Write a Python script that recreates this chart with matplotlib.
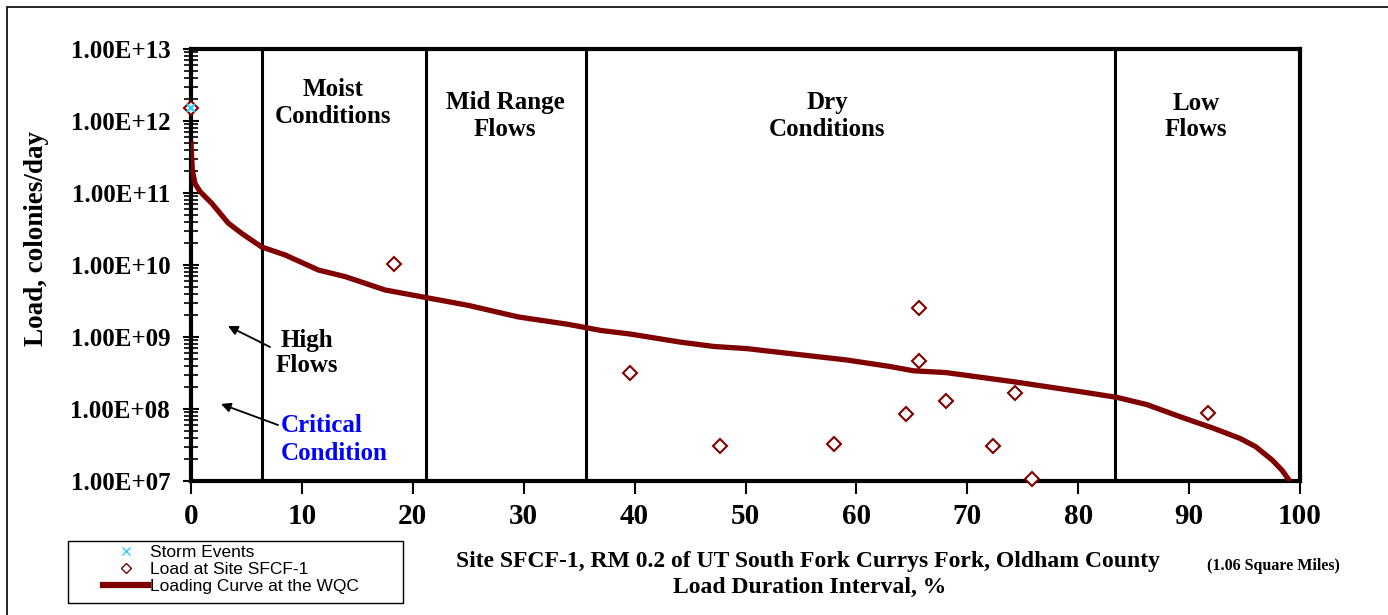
import numpy as np
import matplotlib.pyplot as plt
from matplotlib.patches import Rectangle
from matplotlib.lines import Line2D
from matplotlib.ticker import LogLocator, FixedLocator

# load duration curve at the water quality criterion (percent exceeded, colonies/day)
curve_pct = [0, 0.12, 0.36, 0.81, 1.87, 3.37, 4.57, 6.37, 8.48, 11.5, 13.9, 17.5,
             21.1, 25.0, 29.5, 34.0, 37.0, 39.6, 44.1, 47.1, 50.1, 54.6, 59.1,
             63.0, 65.1, 68.1, 74.1, 80.2, 83.5, 86.2, 89.2, 92.2, 94.6, 96.0,
             97.5, 98.4, 99.1]
curve_load = [4.9e11, 2.1e11, 1.35e11, 1.05e11, 7.2e10, 3.8e10, 2.75e10, 1.78e10,
              1.38e10, 8.5e9, 6.9e9, 4.5e9, 3.55e9, 2.75e9, 1.9e9, 1.5e9, 1.23e9,
              1.1e9, 8.5e8, 7.4e8, 6.9e8, 5.75e8, 4.8e8, 3.9e8, 3.4e8, 3.2e8,
              2.4e8, 1.74e8, 1.45e8, 1.15e8, 7.8e7, 5.4e7, 3.9e7, 3.0e7, 1.95e7,
              1.4e7, 9.8e6]

# observed loads at site SFCF-1
obs_pct = [0, 18.3, 39.6, 47.7, 58.0, 64.5, 65.6, 65.6, 68.1, 72.3, 74.3, 75.8, 91.7]
obs_load = [1.5e12, 1.03e10, 3.2e8, 3.1e7, 3.3e7, 8.5e7, 2.5e9, 4.6e8, 1.3e8,
            3.1e7, 1.66e8, 1.07e7, 8.9e7]

storm_pct = [0]
storm_load = [1.5e12]

zone_edges = [6.4, 21.2, 35.6, 83.3]
zone_labels = ["Moist\nConditions", "Mid Range\nFlows", "Dry\nConditions", "Low\nFlows"]

serif = "Liberation Serif"
dark_red = "#800000"
W, H = 1388, 615


def fx(x):
    return x / W


def fy(y):
    return 1 - y / H


def two_lines(text, x, y_top, gap, **kw):
    for i, line in enumerate(text.split("\n")):
        fig.text(fx(x), fy(y_top + i * gap), line, va="center", **kw)


fig = plt.figure(figsize=(W / 100, H / 100), dpi=100)
ax = fig.add_axes([fx(191), fy(481), fx(1109), 432 / H])

ax.plot(curve_pct, curve_load, color=dark_red, lw=3.8, solid_joinstyle="round",
        zorder=3)
ax.plot(obs_pct, obs_load, ls="none", marker="D", ms=7.5, mfc="white",
        mec=dark_red, mew=1.5, zorder=4, clip_on=False)
ax.plot(storm_pct, storm_load, ls="none", marker="x", ms=6, mec="#33ccff",
        mew=1.5, zorder=5, clip_on=False)

for xe in zone_edges:
    ax.axvline(xe, color="black", lw=2.2, zorder=2)

ax.set_yscale("log")
ax.set_xlim(0, 100)
ax.set_ylim(1e7, 1e13)
ax.xaxis.set_major_locator(FixedLocator(np.arange(0, 101, 10)))
ax.set_yticks([10.0 ** k for k in range(7, 14)])
ax.set_yticklabels(["1.00E+%02d" % k for k in range(7, 14)])
ax.yaxis.set_minor_locator(LogLocator(base=10, subs=np.arange(2, 10), numticks=20))
ax.tick_params(axis="y", which="major", direction="inout", length=12, width=1.5,
               labelsize=18, pad=9)
ax.tick_params(axis="y", which="minor", direction="inout", length=10, width=1.2)
ax.tick_params(axis="x", which="major", direction="out", length=9, width=1.5,
               labelsize=21, pad=7)
for lab in ax.get_xticklabels() + ax.get_yticklabels():
    lab.set_family(serif)
    lab.set_fontweight("bold")
for sp in ax.spines.values():
    sp.set_linewidth(3)

bold = dict(fontweight="bold", family=serif)

# flow zone names
two_lines(zone_labels[0], 333, 90, 27, ha="center", fontsize=18, **bold)
two_lines(zone_labels[1], 505, 103, 27, ha="center", fontsize=18, **bold)
two_lines(zone_labels[2], 827, 103, 27, ha="center", fontsize=18, **bold)
two_lines(zone_labels[3], 1196, 103, 27, ha="center", fontsize=18, **bold)

two_lines("High\nFlows", 307, 340, 26, ha="center", fontsize=18, **bold)
two_lines("Critical\nCondition", 281, 426, 27, ha="left", fontsize=18,
          color="#0000ff", **bold)

# arrows pointing back into the high-flow zone
arrow = dict(arrowstyle="-|>", color="black", lw=1.3, mutation_scale=14,
             shrinkA=0, shrinkB=0)
ax.annotate("", xy=(fx(228), fy(326)), xytext=(fx(270), fy(347)),
            xycoords="figure fraction", textcoords="figure fraction",
            arrowprops=arrow)
ax.annotate("", xy=(fx(221), fy(404)), xytext=(fx(278), fy(425)),
            xycoords="figure fraction", textcoords="figure fraction",
            arrowprops=arrow)

fig.text(fx(37), fy(238), "Load, colonies/day", rotation=90, ha="center",
         va="center", fontsize=19.5, **bold)

fig.text(fx(808), fy(561),
         "Site SFCF-1, RM 0.2 of UT South Fork Currys Fork, Oldham County",
         ha="center", va="center", fontsize=17, **bold)
fig.text(fx(810), fy(587), "Load Duration Interval, %", ha="center",
         va="center", fontsize=17, **bold)
fig.text(fx(1273), fy(566), "(1.06 Square Miles)", ha="center",
         va="center", fontsize=11.5, **bold)

handles = [
    Line2D([], [], ls="none", marker="x", ms=6, mec="#33ccff", mew=1),
    Line2D([], [], ls="none", marker="D", ms=5, mfc="white", mec=dark_red, mew=1),
    Line2D([], [], color=dark_red, lw=4.5),
]
fig.legend(handles, ["Storm Events", "Load at Site SFCF-1",
                     "Loading Curve at the WQC"],
           loc="upper left", bbox_to_anchor=(fx(103), fy(545)),
           prop={"family": "Liberation Sans", "size": 12.5},
           frameon=False, borderpad=0, labelspacing=0.1, handlelength=2.6,
           handletextpad=0.1, borderaxespad=0)
fig.patches.append(Rectangle((fx(68), fy(603)), fx(335), 62 / H,
                             transform=fig.transFigure, fill=False,
                             edgecolor="black", lw=1.0))

# outer border around the whole chart
fig.patches.append(Rectangle((fx(7), -0.05), 1.1, fy(7) + 0.05,
                             transform=fig.transFigure, fill=False,
                             edgecolor="black", lw=1.2))

fig.savefig("out.png", dpi=100)
